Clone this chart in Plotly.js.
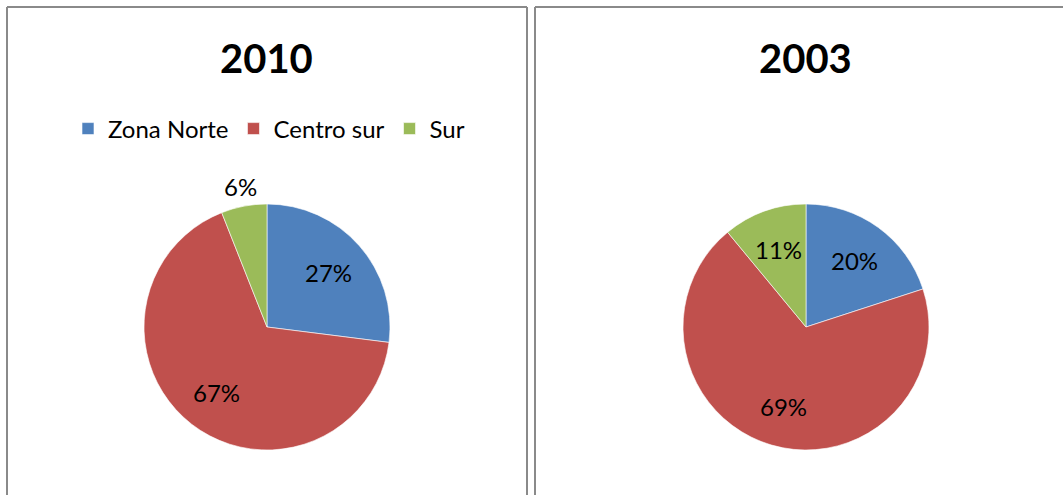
<!DOCTYPE html>
<html>
<head>
<meta charset="utf-8">
<script src="https://cdn.plot.ly/plotly-3.0.1.min.js"></script>
<style>html,body{margin:0;padding:0;background:#fff;}#chart{width:1063px;height:495px;}</style>
</head>
<body>
<div id="chart"></div>
<script>
const categories = ["Zona Norte", "Centro sur", "Sur"];
const values2010 = [27, 67, 6];
const values2003 = [20, 69, 11];
const years = ["2010", "2003"];
const colors = ["#4F81BD", "#C0504D", "#9BBB59"];

const W = 1063, H = 495;
const px = x => x / W;
const py = y => 1 - y / H;
const FONT = "Lato, 'Open Sans', sans-serif";
const R = 123, CY = 327;

function pieTrace(vals, cx, legendName) {
  return {
    type: "pie",
    labels: categories,
    values: vals,
    sort: false,
    direction: "clockwise",
    rotation: 0,
    textinfo: "none",
    marker: {colors: colors, line: {color: "#ffffff", width: 0.6}},
    domain: {x: [px(cx - R), px(cx + R)], y: [py(CY + R), py(CY - R)]},
    legend: legendName,
    hoverinfo: "label+percent"
  };
}

// percentage labels placed at each slice's mid-angle (computed from the values)
function sliceLabels(vals, cx) {
  const total = vals.reduce((a, b) => a + b, 0);
  let cum = 0;
  return vals.map(v => {
    const frac = v / total;
    const mid = (cum + frac / 2) * 2 * Math.PI;
    cum += frac;
    const dist = frac < 0.08 ? R + 20 : R * 0.67;
    const x = cx + dist * Math.sin(mid);
    const y = CY - dist * Math.cos(mid);
    return {
      text: Math.round(frac * 100) + "%",
      x: px(x), y: py(y), xref: "paper", yref: "paper",
      showarrow: false, xanchor: "center", yanchor: "middle",
      font: {family: FONT, size: 24, color: "#000"}
    };
  });
}

const data = [
  pieTrace(values2010, 267, "legend"),
  pieTrace(values2003, 806, "legend2")
];

const legendCommon = {
  orientation: "h",
  xanchor: "center",
  yanchor: "middle",
  y: py(129),
  font: {family: FONT, size: 24, color: "#000"},
  bgcolor: "rgba(0,0,0,0)",
  traceorder: "normal",
  itemwidth: 30
};

const borderLine = {color: "#8a8a8a", width: 2};
const titleFont = {family: FONT, size: 40, color: "#000"};
const layout = {
  width: W, height: H,
  margin: {l: 0, r: 0, t: 0, b: 0},
  paper_bgcolor: "#fff",
  showlegend: true,
  legend: Object.assign({}, legendCommon, {x: px(269)}),
  legend2: Object.assign({}, legendCommon, {x: px(808)}),
  annotations: [
    {text: "<b>" + years[0] + "</b>", x: px(266), y: py(58), xref: "paper", yref: "paper", showarrow: false, xanchor: "center", yanchor: "middle", font: titleFont},
    {text: "<b>" + years[1] + "</b>", x: px(805), y: py(58), xref: "paper", yref: "paper", showarrow: false, xanchor: "center", yanchor: "middle", font: titleFont}
  ].concat(sliceLabels(values2010, 267), sliceLabels(values2003, 806)),
  shapes: [
    {type: "line", xref: "paper", yref: "paper", x0: px(7), x1: px(7), y0: py(7), y1: py(500), line: borderLine},
    {type: "line", xref: "paper", yref: "paper", x0: px(7), x1: px(527), y0: py(7), y1: py(7), line: borderLine},
    {type: "line", xref: "paper", yref: "paper", x0: px(527), x1: px(527), y0: py(7), y1: py(500), line: borderLine},
    {type: "line", xref: "paper", yref: "paper", x0: px(535), x1: px(535), y0: py(7), y1: py(500), line: borderLine},
    {type: "line", xref: "paper", yref: "paper", x0: px(535), x1: px(1070), y0: py(7), y1: py(7), line: borderLine}
  ]
};

Plotly.newPlot("chart", data, layout, {displayModeBar: false, staticPlot: true});
</script>
</body>
</html>
